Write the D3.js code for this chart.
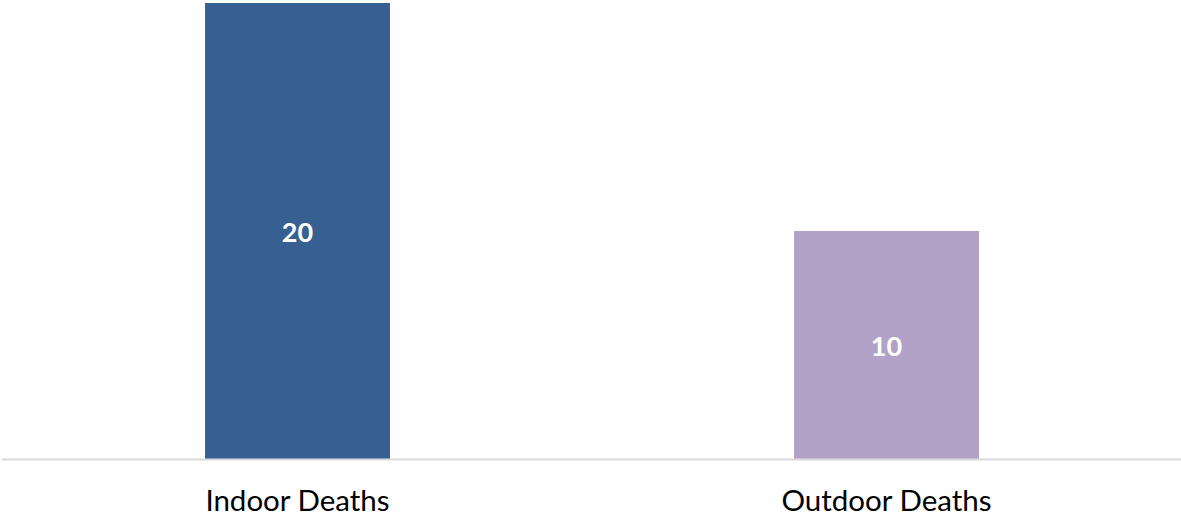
<!DOCTYPE html>
<html><head><meta charset="utf-8">
<script src="https://cdn.jsdelivr.net/npm/d3@7"></script>
<style>body{margin:0;background:#fff}</style>
</head><body>
<svg id="c" width="1181" height="516"></svg>
<script>
const categories = ["Indoor Deaths", "Outdoor Deaths"];
const values = [20, 10];
const colors = ["#376092", "#b3a2c7"];

const svg = d3.select("#c");
const x = d3.scaleBand().domain(categories).range([3, 1181]).paddingInner(0.686).paddingOuter(0.343);
const y = d3.scaleLinear().domain([0, 20]).range([459, 3]);

svg.selectAll("rect.bar").data(categories).join("rect")
  .attr("class", "bar")
  .attr("x", d => x(d)).attr("width", x.bandwidth())
  .attr("y", (d, i) => y(values[i])).attr("height", (d, i) => y(0) - y(values[i]))
  .attr("fill", (d, i) => colors[i]);

svg.append("line").attr("x1", 2).attr("x2", 1181).attr("y1", y(0) + 0.5).attr("y2", y(0) + 0.5)
  .attr("stroke", "#d9d9d9").attr("stroke-width", 2);

svg.selectAll("text.val").data(categories).join("text")
  .attr("class", "val")
  .attr("x", d => x(d) + x.bandwidth() / 2)
  .attr("y", (d, i) => (y(values[i]) + y(0)) / 2 + 1.5)
  .attr("dy", "0.35em").attr("text-anchor", "middle")
  .attr("font-family", "Lato, 'Open Sans', sans-serif").attr("font-weight", "bold").attr("font-size", 27)
  .attr("fill", "#fff").text((d, i) => values[i]);

svg.selectAll("text.cat").data(categories).join("text")
  .attr("class", "cat")
  .attr("x", d => x(d) + x.bandwidth() / 2).attr("y", 510.5)
  .attr("text-anchor", "middle")
  .attr("font-family", "Lato, 'Open Sans', sans-serif").attr("font-size", 29.5)
  .attr("fill", "#000").text(d => d);
</script>
</body></html>
